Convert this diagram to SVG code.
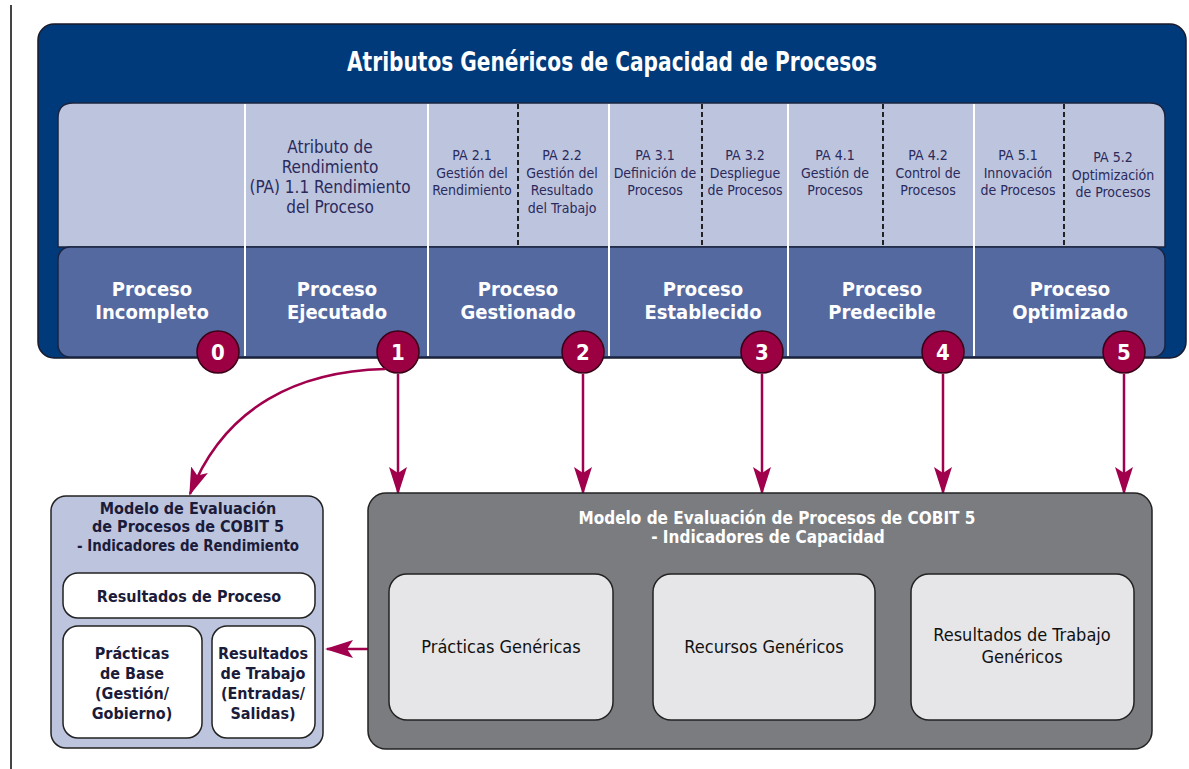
<svg xmlns="http://www.w3.org/2000/svg" width="1189" height="769" viewBox="0 0 1189 769">
<style>
text{font-family:"Liberation Sans Narrow","DejaVu Sans Condensed","Liberation Sans",Arial,sans-serif;text-anchor:middle}
.title{font-size:27px;font-weight:bold;fill:#fff}
.lvl{font-size:20px;font-weight:bold;fill:#fff}
.pa{font-size:14px;fill:#2a2a5c}
.pa1{font-size:17px;fill:#2a2a5c}
.num{font-size:22px;font-weight:bold;fill:#fff}
.bx{font-size:16px;font-weight:bold;fill:#1b1b3a}
.gt{font-size:17px;font-weight:bold;fill:#fff}
.inn{font-size:18px;fill:#111}
.wsep{stroke:#fff;stroke-width:2}
.dsep{stroke:#111;stroke-width:1.8;stroke-dasharray:5,3}
.circ{fill:#9b0042;stroke:#3a0018;stroke-width:1.5}
.con{stroke:#a0004c;stroke-width:2.5;fill:none}
</style>
<defs>
<marker id="ah" markerUnits="userSpaceOnUse" markerWidth="28" markerHeight="18" refX="26" refY="9" orient="auto">
<path d="M0,0 L28,9 L0,18 L6,9 Z" fill="#a0004c"/>
</marker>
</defs>
<rect width="1189" height="769" fill="#fff"/>
<line x1="11" y1="5" x2="11" y2="769" stroke="#444" stroke-width="2"/>

<g id="panel">
<rect x="38" y="24" width="1148" height="334" rx="16" fill="#003a7b" stroke="#1a1a2a" stroke-width="1.5"/>
<text class="title" x="612" y="71" textLength="530" lengthAdjust="spacingAndGlyphs">Atributos Genéricos de Capacidad de Procesos</text>
<path d="M58,247 V118 Q58,103 73,103 H1150 Q1165,103 1165,118 V247 Z" fill="#bdc4dd" stroke="#1a2440" stroke-width="1.5"/>
<rect x="58" y="247" width="1107" height="110" rx="12" fill="#5569a1" stroke="#1a2440" stroke-width="1.5"/>
<g id="separators">
<line class="wsep" x1="245" y1="104" x2="245" y2="356"/>
<line class="wsep" x1="428" y1="104" x2="428" y2="356"/>
<line class="wsep" x1="609" y1="104" x2="609" y2="356"/>
<line class="wsep" x1="788" y1="104" x2="788" y2="356"/>
<line class="wsep" x1="974" y1="104" x2="974" y2="356"/>
<line class="dsep" x1="518" y1="104" x2="518" y2="247"/>
<line class="dsep" x1="702" y1="104" x2="702" y2="247"/>
<line class="dsep" x1="883" y1="104" x2="883" y2="247"/>
<line class="dsep" x1="1064" y1="104" x2="1064" y2="247"/>
</g>
</g>

<g id="pa11"><text class="pa1" x="330" y="153">Atributo de</text><text class="pa1" x="330" y="173">Rendimiento</text><text class="pa1" x="330" y="193">(PA) 1.1 Rendimiento</text><text class="pa1" x="330" y="213">del Proceso</text></g>
<g id="pa21"><text class="pa" x="472" y="160">PA 2.1</text><text class="pa" x="472" y="178">Gestión del</text><text class="pa" x="472" y="195">Rendimiento</text></g>
<g id="pa22"><text class="pa" x="562" y="160">PA 2.2</text><text class="pa" x="562" y="178">Gestión del</text><text class="pa" x="562" y="195">Resultado</text><text class="pa" x="562" y="213">del Trabajo</text></g>
<g id="pa31"><text class="pa" x="655" y="160">PA 3.1</text><text class="pa" x="655" y="178">Definición de</text><text class="pa" x="655" y="195">Procesos</text></g>
<g id="pa32"><text class="pa" x="745" y="160">PA 3.2</text><text class="pa" x="745" y="178">Despliegue</text><text class="pa" x="745" y="195">de Procesos</text></g>
<g id="pa41"><text class="pa" x="835" y="160">PA 4.1</text><text class="pa" x="835" y="178">Gestión de</text><text class="pa" x="835" y="195">Procesos</text></g>
<g id="pa42"><text class="pa" x="928" y="160">PA 4.2</text><text class="pa" x="928" y="178">Control de</text><text class="pa" x="928" y="195">Procesos</text></g>
<g id="pa51"><text class="pa" x="1018" y="160">PA 5.1</text><text class="pa" x="1018" y="178">Innovación</text><text class="pa" x="1018" y="195">de Procesos</text></g>
<g id="pa52"><text class="pa" x="1113" y="162">PA 5.2</text><text class="pa" x="1113" y="180">Optimización</text><text class="pa" x="1113" y="197">de Procesos</text></g>

<g id="lvl0"><text class="lvl" x="152" y="296">Proceso</text><text class="lvl" x="152" y="319">Incompleto</text><circle class="circ" cx="218" cy="352" r="21"/><text class="num" x="218" y="360">0</text></g>
<g id="lvl1"><text class="lvl" x="337" y="296">Proceso</text><text class="lvl" x="337" y="319">Ejecutado</text><circle class="circ" cx="398" cy="352" r="21"/><text class="num" x="398" y="360">1</text></g>
<g id="lvl2"><text class="lvl" x="518" y="296">Proceso</text><text class="lvl" x="518" y="319">Gestionado</text><circle class="circ" cx="583" cy="352" r="21"/><text class="num" x="583" y="360">2</text></g>
<g id="lvl3"><text class="lvl" x="703" y="296">Proceso</text><text class="lvl" x="703" y="319">Establecido</text><circle class="circ" cx="762" cy="352" r="21"/><text class="num" x="762" y="360">3</text></g>
<g id="lvl4"><text class="lvl" x="882" y="296">Proceso</text><text class="lvl" x="882" y="319">Predecible</text><circle class="circ" cx="943" cy="352" r="21"/><text class="num" x="943" y="360">4</text></g>
<g id="lvl5"><text class="lvl" x="1070" y="296">Proceso</text><text class="lvl" x="1070" y="319">Optimizado</text><circle class="circ" cx="1124" cy="352" r="21"/><text class="num" x="1124" y="360">5</text></g>

<g id="connectors">
<line class="con" x1="398" y1="374" x2="398" y2="493" marker-end="url(#ah)"/>
<line class="con" x1="583" y1="374" x2="583" y2="493" marker-end="url(#ah)"/>
<line class="con" x1="762" y1="374" x2="762" y2="493" marker-end="url(#ah)"/>
<line class="con" x1="943" y1="374" x2="943" y2="493" marker-end="url(#ah)"/>
<line class="con" x1="1124" y1="374" x2="1124" y2="493" marker-end="url(#ah)"/>
<path class="con" d="M385,369 C300,371 225,405 190,494" marker-end="url(#ah)"/>
<line class="con" x1="368" y1="649" x2="327" y2="649" marker-end="url(#ah)"/>
</g>

<g id="perf">
<rect x="51" y="496" width="272" height="252" rx="15" fill="#bdc4dd" stroke="#222" stroke-width="1.5"/>
<text class="bx" x="188" y="514">Modelo de Evaluación</text>
<text class="bx" x="188" y="532">de Procesos de COBIT 5</text>
<text class="bx" x="188" y="551" textLength="222" lengthAdjust="spacingAndGlyphs">- Indicadores de Rendimiento</text>
<g id="res-proceso"><rect x="63" y="573" width="252" height="45" rx="15" fill="#fff" stroke="#222" stroke-width="1.5"/><text class="bx" x="189" y="602">Resultados de Proceso</text></g>
<g id="practicas-base"><rect x="63" y="626" width="139" height="112" rx="15" fill="#fff" stroke="#222" stroke-width="1.5"/><text class="bx" x="132" y="659">Prácticas</text><text class="bx" x="132" y="679">de Base</text><text class="bx" x="132" y="699">(Gestión/</text><text class="bx" x="132" y="719">Gobierno)</text></g>
<g id="res-trabajo"><rect x="212" y="626" width="103" height="112" rx="15" fill="#fff" stroke="#222" stroke-width="1.5"/><text class="bx" x="263" y="659">Resultados</text><text class="bx" x="263" y="679">de Trabajo</text><text class="bx" x="263" y="699">(Entradas/</text><text class="bx" x="263" y="719">Salidas)</text></g>
</g>

<g id="cap">
<rect x="368" y="493" width="784" height="256" rx="18" fill="#7b7c80" stroke="#222" stroke-width="1.5"/>
<text class="gt" x="777" y="524">Modelo de Evaluación de Procesos de COBIT 5</text>
<text class="gt" x="768" y="543">- Indicadores de Capacidad</text>
<g id="prac-gen"><rect x="389" y="574" width="224" height="146" rx="18" fill="#e6e6e8" stroke="#222" stroke-width="1.5"/><text class="inn" x="501" y="653">Prácticas Genéricas</text></g>
<g id="rec-gen"><rect x="653" y="574" width="222" height="146" rx="18" fill="#e6e6e8" stroke="#222" stroke-width="1.5"/><text class="inn" x="764" y="653">Recursos Genéricos</text></g>
<g id="res-gen"><rect x="911" y="574" width="223" height="146" rx="18" fill="#e6e6e8" stroke="#222" stroke-width="1.5"/><text class="inn" x="1022" y="641">Resultados de Trabajo</text><text class="inn" x="1022" y="663">Genéricos</text></g>
</g>
</svg>
